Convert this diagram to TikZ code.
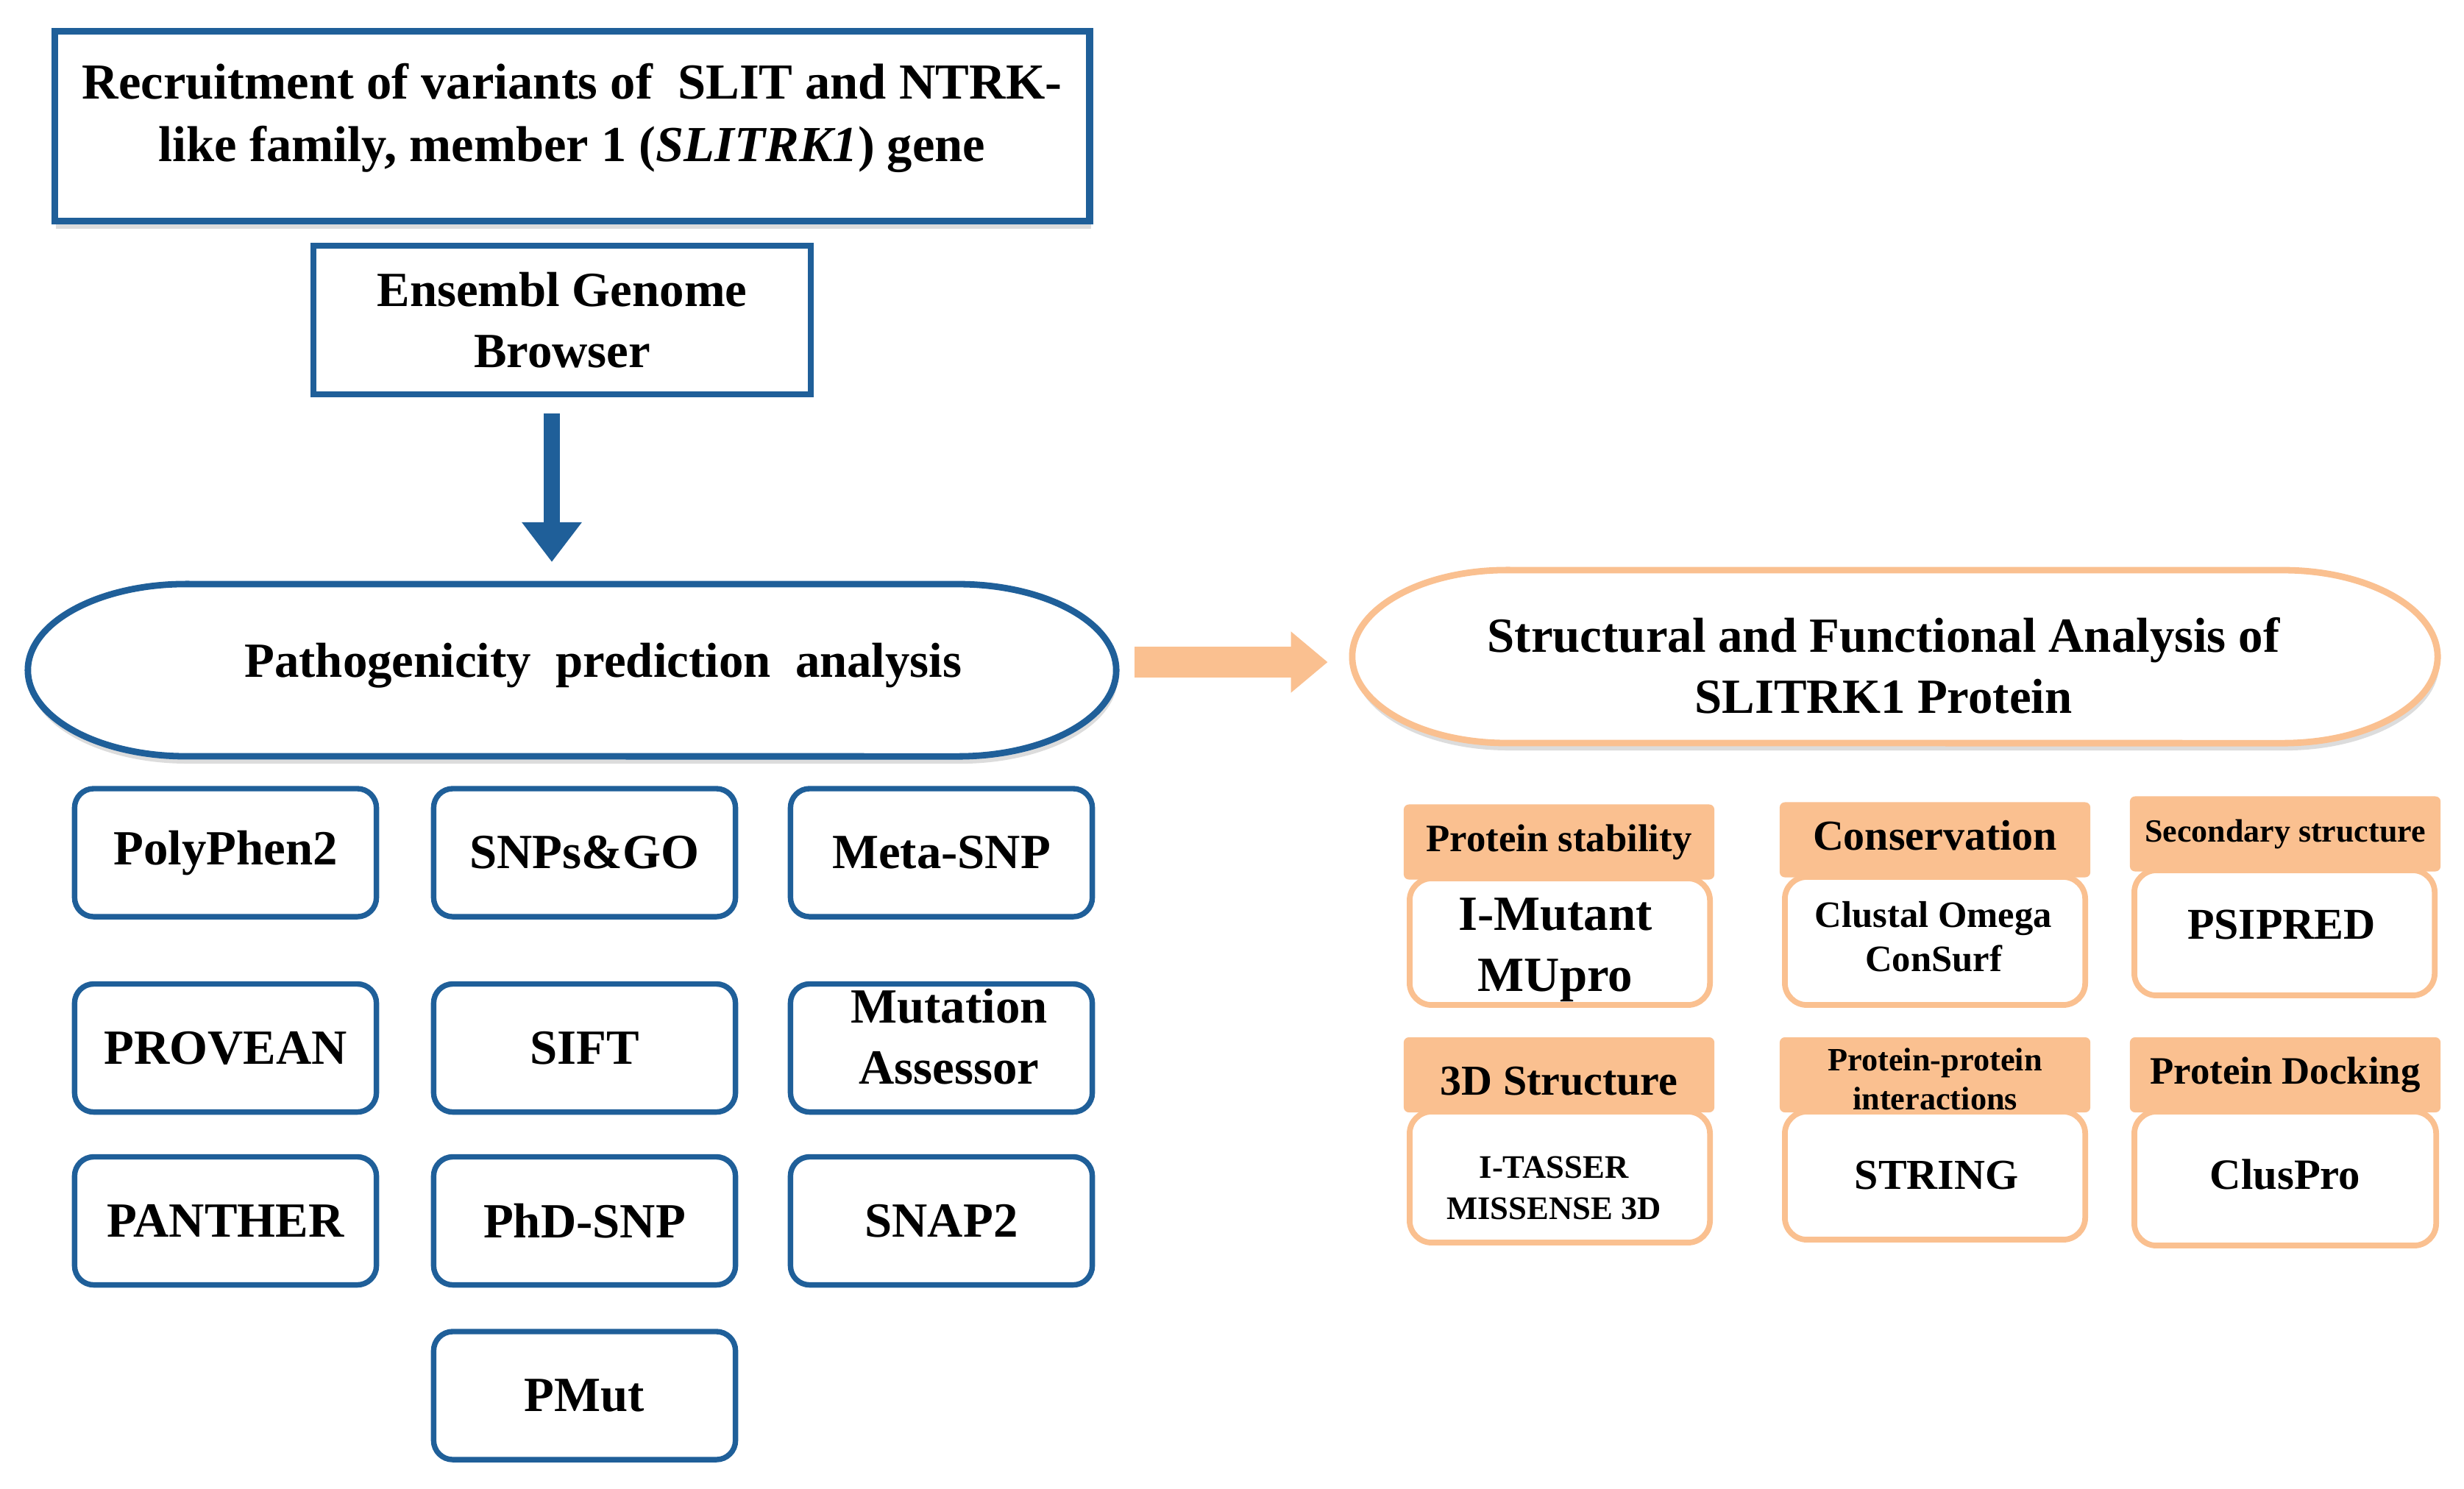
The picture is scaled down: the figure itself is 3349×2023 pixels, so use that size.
\documentclass[tikz,border=0pt]{standalone}
\usepackage{fontspec}
\setmainfont{Liberation Serif}
\usetikzlibrary{arrows.meta,shadows,calc}
\definecolor{bblue}{HTML}{1F5F99}
\definecolor{lorange}{HTML}{FAC090}
\tikzset{
  base/.style={inner sep=0pt, outer sep=0pt, align=center, text=black},
  fs/.style 2 args={font=\bfseries\fontsize{#1}{#2}\selectfont},
  shd/.style={drop shadow={shadow xshift=0.02cm, shadow yshift=-0.1cm, opacity=0.3, fill=black!45}},
  blubox/.style={base, draw=bblue, line width=2.1pt, rounded corners=0.26cm, fill=white,
                 fs={19pt}{23.6pt}, minimum width=4.1cm, minimum height=1.74cm},
  hdr/.style={base, fill=lorange, rounded corners=2pt, minimum width=4.22cm, minimum height=1.02cm},
  obox/.style={base, draw=lorange, fill=white, line width=2.2pt, rounded corners=0.3cm, minimum width=4.08cm},
  stad/.style={base, minimum height=2.42cm},
  bigblue/.style={draw=bblue, line width=0.22cm, -{Triangle[length=0.54cm,width=0.78cm]}},
  bigor/.style={draw=lorange, line width=0.42cm, -{Triangle[length=0.5cm,width=0.8cm]}},
}
\begin{document}
\begin{tikzpicture}[x=0.01cm,y=0.01cm]
\useasboundingbox (0,0) rectangle (3349,-2023);
\fill[white] (0,0) rectangle (3349,-2023);

% top boxes
\node[base, draw=bblue, line width=2.6pt, fill=white, shd,
      minimum width=14.06cm, minimum height=2.58cm] (recruit) at (777.5,-171.5) {};
\node[base, fs={19.5pt}{24pt}] (recruitt) at (777.5,-160.5)
      {Recruitment of variants of \ SLIT and NTRK-\\like family, member 1 (\textit{SLITRK1}) gene};
\node[base, draw=bblue, line width=2.2pt, fill=white, fs={19pt}{23.6pt},
      minimum width=6.76cm, minimum height=2.02cm] (ens) at (764,-435)
      {Ensembl Genome\\Browser};

% pathogenicity stadium
\draw[bblue, line width=2.5pt, fill=white, shd]
  (253,-794) -- (1302,-794) arc[start angle=90,end angle=-90,x radius=2.15cm,y radius=1.17cm]
  -- (253,-1028) arc[start angle=270,end angle=90,x radius=2.15cm,y radius=1.17cm] -- cycle;
\node[stad, minimum width=14.02cm, fs={19pt}{23.6pt}] (patho) at (820,-905) {Pathogenicity \ prediction \ analysis};

% structural stadium
\draw[lorange, line width=2.5pt, fill=white, shd]
  (2048,-775) -- (3103,-775) arc[start angle=90,end angle=-90,x radius=2.1cm,y radius=1.175cm]
  -- (2048,-1010) arc[start angle=270,end angle=90,x radius=2.1cm,y radius=1.175cm] -- cycle;
\node[stad, minimum width=14.44cm, fs={19pt}{23.6pt}] (struct) at (2560,-905) {Structural and Functional Analysis of\\SLITRK1 Protein};

% block arrows
\coordinate (ax) at (750,0);
\coordinate (ay) at (0,-900);
\draw[bigblue, shorten <=0.26cm, shorten >=0.2cm] (ens.south -| ax) -- (patho.north -| ax);
\draw[bigor, shorten <=0.21cm, shorten >=0.33cm] (patho.east |- ay) -- (struct.west |- ay);

% blue tool boxes
\node[blubox] (poly) at (306.5,-1159) {PolyPhen2};
\node[blubox] (snps) at (794.5,-1159) {SNPs\&GO};
\node[blubox] (meta) at (1279.5,-1159) {Meta-SNP};
\node[blubox] (prov) at (306.5,-1424.5) {PROVEAN};
\node[blubox] (sift) at (794.5,-1424.5) {SIFT};
\node[blubox] (mass) at (1279.5,-1424.5) {};
\node[base, fs={19pt}{23.6pt}] (masst) at (1290,-1409.5) {Mutation\\Assessor};
\node[blubox] (pant) at (306.5,-1659.5) {PANTHER};
\node[blubox] (phd) at (794.5,-1659.5) {PhD-SNP};
\node[blubox] (snap) at (1279.5,-1659.5) {SNAP2};
\node[blubox] (pmut) at (794.5,-1897) {PMut};

% orange cells: boxes
\node[obox, minimum height=1.72cm] (stab) at (2120,-1280) {};
\node[obox, minimum height=1.74cm] (cons) at (2630,-1279) {};
\node[obox, minimum height=1.70cm] (sec) at (3105,-1268) {};
\node[obox, minimum height=1.78cm] (tdim) at (2120,-1600) {};
\node[obox, minimum height=1.74cm] (ppi) at (2630,-1598) {};
\node[obox, minimum height=1.82cm, minimum width=4.1cm] (dock) at (3106,-1602) {};

\node[base, fs={19pt}{23.6pt}] (stabt) at (2114,-1291) {I-Mutant\\MUpro};
\node[base, fs={14.4pt}{17pt}] (const) at (2628,-1273) {Clustal Omega\\ConSurf};
\node[base, fs={17pt}{20pt}] (sect) at (3101,-1257) {PSIPRED};
\node[base, fs={12.7pt}{16pt}] (tdimt) at (2112,-1615) {I-TASSER\\MISSENSE 3D};
\node[base, fs={16.5pt}{20pt}] (ppit) at (2632,-1598) {STRING};
\node[base, fs={16.7pt}{20pt}] (dockt) at (3106,-1596) {ClusPro};

% orange cells: headers
\node[hdr, fs={15pt}{18pt}] (stabh) at (2119,-1144.5) {Protein stability};
\node[hdr] (consh) at (2630,-1141.5) {};
\node[base, fs={16.5pt}{20pt}] (consht) at (2630,-1135.5) {Conservation};
\node[hdr, fs={12.5pt}{15pt}] (sech) at (3106,-1133.5) {Secondary structure};
\node[hdr] (tdimh) at (2119,-1461) {};
\node[base, fs={16.5pt}{20pt}] (tdimht) at (2119,-1470) {3D Structure};
\node[hdr] (ppih) at (2630,-1461) {};
\node[base, fs={12.6pt}{15pt}] (ppiht) at (2630,-1467) {Protein-protein\\interactions};
\node[hdr, fs={15pt}{18pt}] (dockh) at (3106,-1461) {Protein Docking};
\end{tikzpicture}
\end{document}
